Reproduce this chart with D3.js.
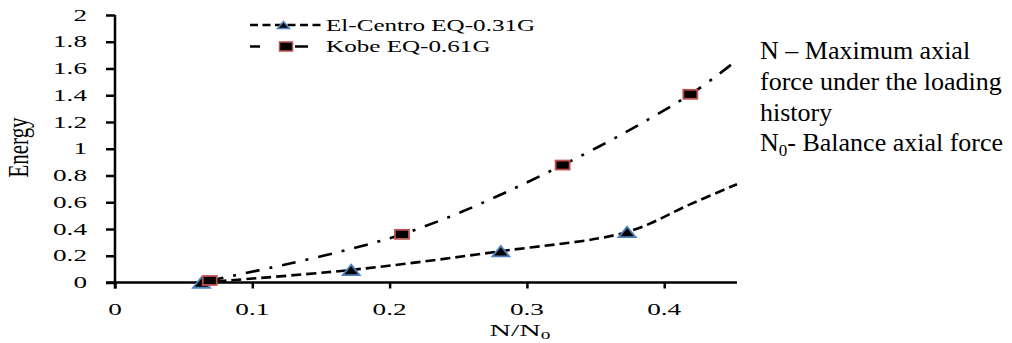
<!DOCTYPE html>
<html>
<head>
<meta charset="utf-8">
<script src="https://cdn.jsdelivr.net/npm/d3@7"></script>
<style>
  body { margin: 0; background: #fff; }
  text { font-family: "Liberation Serif", "Times New Roman", serif; fill: #000; }
</style>
</head>
<body>
<div id="chart"></div>
<script>
// values
const xTicks = [0, 0.1, 0.2, 0.3, 0.4];
const yTicks = [0, 0.2, 0.4, 0.6, 0.8, 1, 1.2, 1.4, 1.6, 1.8, 2];

// measured points (markers)
const elCentroN = [0.063, 0.172, 0.281, 0.373];
const elCentroE = [0.0, 0.094, 0.234, 0.378];
const kobeN = [0.069, 0.209, 0.326, 0.419];
const kobeE = [0.015, 0.36, 0.878, 1.407];

// the drawn curves run past the last marker
const elCentroLineN = [0.063, 0.172, 0.281, 0.373, 0.42, 0.453];
const elCentroLineE = [0.0, 0.094, 0.234, 0.378, 0.59, 0.735];
const kobeLineN = [0.069, 0.209, 0.326, 0.419, 0.452];
const kobeLineE = [0.015, 0.36, 0.878, 1.407, 1.655];

const seriesNames = ["El-Centro EQ-0.31G", "Kobe EQ-0.61G"];
const noteLines = ["N \u2013 Maximum axial", "force under the loading", "history"];

const width = 1012, height = 343;
const margin = { top: 15, right: 275, bottom: 60.5, left: 115 };

const svg = d3.select("#chart").append("svg")
  .attr("width", width)
  .attr("height", height);

const x = d3.scaleLinear().domain([0, 0.453]).range([margin.left, width - margin.right]);
const y = d3.scaleLinear().domain([0, 2]).range([height - margin.bottom, margin.top]);

// the original figure is stretched sideways, so chart text is scaled in x
const sx = 1.7;

// axes
const xAxis = d3.axisBottom(x).tickValues(xTicks).tickSize(6).tickFormat("");
svg.append("g")
  .attr("class", "myXaxis")
  .attr("transform", "translate(0," + y(0) + ")")
  .call(xAxis)
  .call(g => g.select(".domain").attr("d", "M" + (x(0) - 9) + ",0H" + x(0.453)))
  .selectAll("line, path").attr("stroke", "#000").attr("stroke-width", 2.5);

const yAxis = d3.axisLeft(y).tickValues(yTicks).tickSize(9).tickFormat("");
svg.append("g")
  .attr("class", "myYaxis")
  .attr("transform", "translate(" + x(0) + ",0)")
  .call(yAxis)
  .call(g => g.select(".domain").attr("d", "M0," + y(2) + "V" + (y(0) + 6)))
  .selectAll("line, path").attr("stroke", "#000").attr("stroke-width", 2.5);

// tick labels
svg.append("g").selectAll("text")
  .data(xTicks)
  .enter().append("text")
  .attr("transform", d => "translate(" + x(d) + ",315) scale(" + sx + ",1)")
  .attr("text-anchor", "middle")
  .style("font-size", "16px")
  .text(d => d);

svg.append("g").selectAll("text")
  .data(yTicks)
  .enter().append("text")
  .attr("transform", d => "translate(87," + y(d) + ") scale(" + sx + ",1)")
  .attr("text-anchor", "end")
  .attr("dy", "0.35em")
  .style("font-size", "16px")
  .text(d => d);

// axis titles
const xt = svg.append("text")
  .attr("transform", "translate(520,336) scale(1.75,1)")
  .attr("text-anchor", "middle")
  .style("font-size", "17px");
xt.append("tspan").text("N/N");
xt.append("tspan").attr("dy", 3).style("font-size", "11px").text("0");

svg.append("text")
  .attr("transform", "translate(28,147.5) scale(1.4,1) rotate(-90)")
  .attr("text-anchor", "middle")
  .style("font-size", "21px")
  .text("Energy");

// curves
const line = d3.line()
  .x(d => x(d[0]))
  .y(d => y(d[1]))
  .curve(d3.curveCatmullRom.alpha(0.5));

svg.append("path")
  .datum(d3.zip(elCentroLineN, elCentroLineE))
  .attr("d", line)
  .attr("fill", "none")
  .attr("stroke", "#000")
  .attr("stroke-width", 2.6)
  .attr("stroke-dasharray", "10,5");

svg.append("path")
  .datum(d3.zip(kobeLineN, kobeLineE))
  .attr("d", line)
  .attr("fill", "none")
  .attr("stroke", "#000")
  .attr("stroke-width", 2.6)
  .attr("stroke-dasharray", "14,10,3,10");

// markers
function triPath(w, h) {
  return "M0," + (-h / 2) + "L" + (w / 2) + "," + (h / 2) + "L" + (-w / 2) + "," + (h / 2) + "Z";
}

svg.append("g").selectAll("path")
  .data(d3.zip(elCentroN, elCentroE))
  .enter().append("path")
  .attr("transform", d => "translate(" + x(d[0]) + "," + y(d[1]) + ")")
  .attr("d", triPath(17, 10.5))
  .attr("fill", "#000")
  .attr("stroke", "#4f81bd")
  .attr("stroke-width", 1.8);

svg.append("g").selectAll("rect")
  .data(d3.zip(kobeN, kobeE))
  .enter().append("rect")
  .attr("x", d => x(d[0]) - 7)
  .attr("y", d => y(d[1]) - 4.5)
  .attr("width", 14)
  .attr("height", 9)
  .attr("fill", "#000")
  .attr("stroke", "#c0504d")
  .attr("stroke-width", 1.8);

// legend
const legend = svg.append("g").attr("class", "legend");
legend.append("line")
  .attr("x1", 250).attr("x2", 322).attr("y1", 25).attr("y2", 25)
  .attr("stroke", "#000").attr("stroke-width", 2.6).attr("stroke-dasharray", "8,4.5");
legend.append("path")
  .attr("transform", "translate(283.5,25)")
  .attr("d", triPath(12, 7))
  .attr("fill", "#000").attr("stroke", "#4f81bd").attr("stroke-width", 1.5);
legend.append("line")
  .attr("x1", 250).attr("x2", 308).attr("y1", 46.5).attr("y2", 46.5)
  .attr("stroke", "#000").attr("stroke-width", 2.6).attr("stroke-dasharray", "10,35,13");
legend.append("rect")
  .attr("x", 279.5).attr("y", 42).attr("width", 13).attr("height", 9)
  .attr("fill", "#000").attr("stroke", "#c0504d").attr("stroke-width", 1.5);

legend.selectAll("text.lab")
  .data(seriesNames)
  .enter().append("text")
  .attr("class", "lab")
  .attr("transform", (d, i) => "translate(326," + (31 + i * 21) + ") scale(1.57,1)")
  .style("font-size", "16px")
  .text(d => d);

// side note
const note = svg.append("g").attr("class", "note");
note.selectAll("text")
  .data(noteLines)
  .enter().append("text")
  .attr("x", 760)
  .attr("y", (d, i) => 59 + i * 30.8)
  .style("font-size", "26px")
  .text(d => d);
const n0 = note.append("text")
  .attr("x", 760)
  .attr("y", 59 + 3 * 30.8)
  .style("font-size", "26px");
n0.append("tspan").text("N");
n0.append("tspan").attr("dy", 5).style("font-size", "17px").text("0");
n0.append("tspan").attr("dy", -5).text("- Balance axial force");
</script>
</body>
</html>
